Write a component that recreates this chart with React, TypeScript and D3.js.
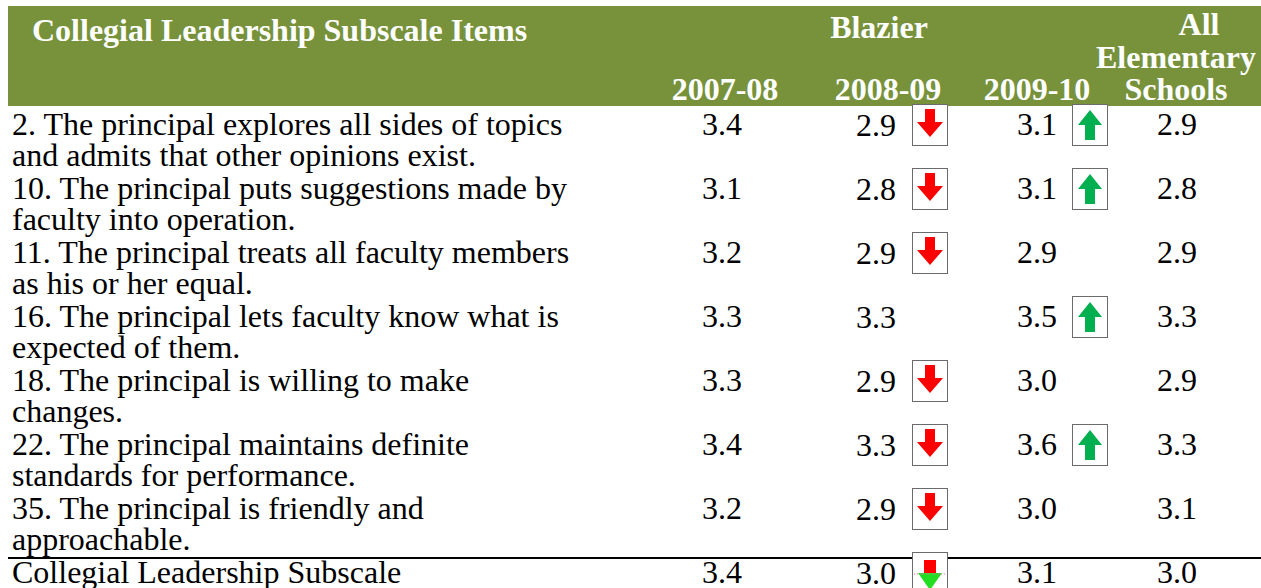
import React, { useEffect, useRef } from "react";
import * as d3 from "d3";

const itemLines: string[][] = [
  ["2. The principal explores all sides of topics", "and admits that other opinions exist."],
  ["10. The principal puts suggestions made by", "faculty into operation."],
  ["11. The principal treats all faculty members", "as his or her equal."],
  ["16. The principal lets faculty know what is", "expected of them."],
  ["18. The principal is willing to make", "changes."],
  ["22. The principal maintains definite", "standards for performance."],
  ["35. The principal is friendly and", "approachable."],
  ["Collegial Leadership Subscale"],
];
const columns = ["2007-08", "2008-09", "2009-10", "All"];
const v2007 = [3.4, 3.1, 3.2, 3.3, 3.3, 3.4, 3.2, 3.4];
const v2008 = [2.9, 2.8, 2.9, 3.3, 2.9, 3.3, 2.9, 3.0];
const v2009 = [3.1, 3.1, 2.9, 3.5, 3.0, 3.6, 3.0, 3.1];
const vAll = [2.9, 2.8, 2.9, 3.3, 2.9, 3.3, 3.1, 3.0];
// trend markers: "down" red, "up" green, "mixed" the garbled glyph in the last row
const arrows2008 = ["down", "down", "down", "", "down", "down", "down", "mixed"];
const arrows2009 = ["up", "up", "", "up", "", "up", "", ""];

const GREEN_HEAD = "#77923b";
const RED = "#ff0000";
const UP_GREEN = "#00b050";
const FONT = "'Liberation Serif', 'Times New Roman', serif";

const App: React.FC = () => {
  const svgRef = useRef<SVGSVGElement | null>(null);

  useEffect(() => {
    if (!svgRef.current) return;
    const width = 1261;
    const height = 588;
    const svg = d3.select(svgRef.current);
    svg.selectAll("*").remove();

    const colX = d3.scaleOrdinal<string, number>().domain(columns).range([722, 876, 1037, 1177]);
    const rowY = d3.scaleLinear().domain([0, 1]).range([135, 199]);

    // header band
    svg.append("rect").attr("x", 8).attr("y", 6).attr("width", width - 8).attr("height", 100).attr("fill", GREEN_HEAD);

    const head = svg.append("g").attr("font-family", FONT).attr("font-weight", "bold").attr("font-size", 32).attr("fill", "#fff");
    head.append("text").attr("x", 32).attr("y", 41).text("Collegial Leadership Subscale Items");
    head.append("text").attr("x", 879).attr("y", 38).attr("text-anchor", "middle").text("Blazier");
    const yearCenters = [725, 888, 1037];
    columns.slice(0, 3).forEach((c, i) => {
      head.append("text").attr("x", yearCenters[i]).attr("y", 100).attr("text-anchor", "middle").text(c);
    });
    head.append("text").attr("x", 1199).attr("y", 35).attr("text-anchor", "middle").text("All");
    head.append("text").attr("x", 1176).attr("y", 68).attr("text-anchor", "middle").text("Elementary");
    head.append("text").attr("x", 1176).attr("y", 100).attr("text-anchor", "middle").text("Schools");

    const body = svg.append("g").attr("font-family", FONT).attr("font-size", 32).attr("fill", "#000");

    // item labels
    itemLines.forEach((lines, i) => {
      const t = body.append("text").attr("x", 12).attr("y", rowY(i));
      lines.forEach((l, j) => {
        t.append("tspan").attr("x", 12).attr("y", rowY(i) + j * 31).text(l);
      });
    });

    // separator above the subscale total
    svg.append("line").attr("x1", 8).attr("x2", width).attr("y1", 558).attr("y2", 558).attr("stroke", "#000").attr("stroke-width", 2);

    const series = [v2007, v2008, v2009, vAll];
    series.forEach((vals, ci) => {
      body
        .selectAll(null)
        .data(vals)
        .enter()
        .append("text")
        .attr("x", colX(columns[ci]))
        .attr("y", (d, i) => rowY(i) + (ci === 1 ? 1 : 0))
        .attr("text-anchor", "middle")
        .text((d) => d3.format(".1f")(d));
    });

    const drawArrow = (x0: number, kind: string, i: number) => {
      if (!kind) return;
      const top = rowY(i) - 31;
      const g = svg.append("g").attr("transform", `translate(${x0},${top})`);
      g.append("rect").attr("x", 0.5).attr("y", 0.5).attr("width", 35).attr("height", 41).attr("fill", "#fff").attr("stroke", "#6b6b6b").attr("stroke-width", 1);
      const cx = 18;
      if (kind === "down") {
        g.append("path")
          .attr("d", `M${cx - 5},5 H${cx + 5} V18 H${cx + 13} L${cx},33 L${cx - 13},18 H${cx - 5} Z`)
          .attr("fill", RED);
      } else if (kind === "up") {
        g.append("path")
          .attr("d", `M${cx},6 L${cx + 12},21 H${cx + 5} V36 H${cx - 5} V21 H${cx - 12} Z`)
          .attr("fill", UP_GREEN);
      } else {
        g.append("rect").attr("x", cx - 6).attr("y", 8).attr("width", 12).attr("height", 14).attr("fill", RED);
        g.append("path").attr("d", `M${cx - 12},21 H${cx + 12} L${cx},38 Z`).attr("fill", "#22dd22");
        g.append("line").attr("x1", 2).attr("x2", 34).attr("y1", 22).attr("y2", 22).attr("stroke", "#ff66cc").attr("stroke-dasharray", "1,2");
      }
    };
    arrows2008.forEach((k, i) => drawArrow(912, k, i));
    arrows2009.forEach((k, i) => drawArrow(1072, k, i));
  }, []);

  return (
    <div style={{ position: "absolute", left: 0, top: 0, width: 1261, height: 588, overflow: "hidden", background: "#fff" }}>
      <svg ref={svgRef} width={1261} height={588}></svg>
    </div>
  );
};

export default App;
